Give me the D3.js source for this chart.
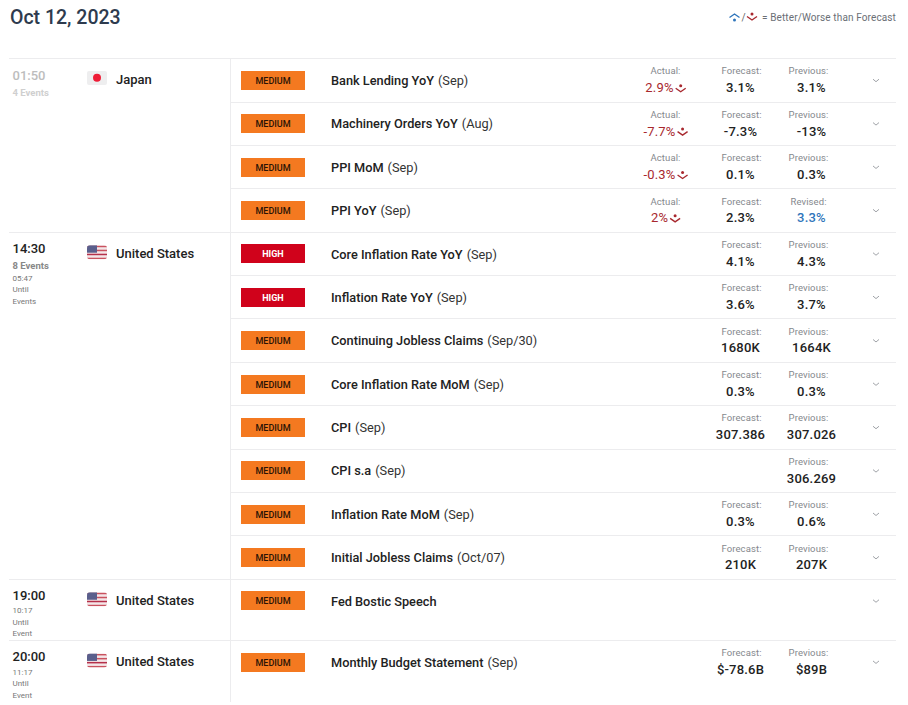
<!DOCTYPE html>
<html><head><meta charset="utf-8">
<script src="https://cdn.jsdelivr.net/npm/d3@7"></script>
<style>html,body{margin:0;padding:0;background:#fff}svg{display:block}text{font-family:Roboto,sans-serif}</style>
</head><body><svg id="c" width="908" height="705"></svg>
<script>
const dateLabel = "Oct 12, 2023";
const legendLabel = "= Better/Worse than Forecast";
const importance = ["MEDIUM","MEDIUM","MEDIUM","MEDIUM","HIGH","HIGH","MEDIUM","MEDIUM","MEDIUM","MEDIUM","MEDIUM","MEDIUM","MEDIUM","MEDIUM"];
const eventNames = ["Bank Lending YoY","Machinery Orders YoY","PPI MoM","PPI YoY","Core Inflation Rate YoY","Inflation Rate YoY","Continuing Jobless Claims","Core Inflation Rate MoM","CPI","CPI s.a","Inflation Rate MoM","Initial Jobless Claims","Fed Bostic Speech","Monthly Budget Statement"];
const periods = ["(Sep)","(Aug)","(Sep)","(Sep)","(Sep)","(Sep)","(Sep/30)","(Sep)","(Sep)","(Sep)","(Sep)","(Oct/07)","","(Sep)"];
const actuals = ["2.9%","-7.7%","-0.3%","2%","","","","","","","","","",""];
const forecasts = ["3.1%","-7.3%","0.1%","2.3%","4.1%","3.6%","1680K","0.3%","307.386","","0.3%","210K","","$-78.6B"];
const previous = ["3.1%","-13%","0.3%","3.3%","4.3%","3.7%","1664K","0.3%","307.026","306.269","0.6%","207K","","$89B"];
const revisedRows = [3];
const rowUnits = [1,1,1,1,1,1,1,1,1,1,1,1,1.41,1.43];
const groupTimes = ["01:50","14:30","19:00","20:00"];
const groupCountries = ["Japan","United States","United States","United States"];
const groupFirstRow = [0,4,12,13];
const groupEvents = ["4 Events","8 Events","",""];
const groupCountdown = ["","05:47","10:17","11:17"];
const groupUntil = ["","Events","Event","Event"];

const svg = d3.select("#c");
const cum = [0]; rowUnits.forEach(u => cum.push(cum[cum.length-1]+u));
const totalUnits = cum[cum.length-1];
const yScale = d3.scaleLinear().domain([0, totalUnits]).range([58.2, 58.2+43.38*totalUnits]);
const rowTop = i => yScale(cum[i]);
const lineC = "#ececee";
const PAD = {l:9, r:896, div:230.5};

function worse(g, x, yy, c){
  g.append("circle").attr("cx",x).attr("cy",yy-3).attr("r",1.5).attr("fill",c);
  g.append("path").attr("d",`M${x-5},${yy-0.5} L${x},${yy+3} L${x+5},${yy-0.5}`).attr("fill","none").attr("stroke",c).attr("stroke-width",1.4);
}
function better(g, x, yy, c){
  g.append("circle").attr("cx",x).attr("cy",yy+3).attr("r",1.5).attr("fill",c);
  g.append("path").attr("d",`M${x-5},${yy+0.5} L${x},${yy-3} L${x+5},${yy+0.5}`).attr("fill","none").attr("stroke",c).attr("stroke-width",1.4);
}
function flagUS(g, x, yy){
  const w=20,h=14, sh=h/7;
  const id="cl"+Math.round(yy);
  g.append("clipPath").attr("id",id).append("rect").attr("x",x).attr("y",yy).attr("width",w).attr("height",h).attr("rx",3);
  const f=g.append("g").attr("clip-path",`url(#${id})`);
  f.append("rect").attr("x",x).attr("y",yy).attr("width",w).attr("height",h).attr("fill","#f4e6e8");
  d3.range(7).forEach(i=>{ if(i%2==0) f.append("rect").attr("x",x).attr("y",yy+i*sh+0.5).attr("width",w).attr("height",sh*0.75).attr("fill",i==4?"#b5304a":"#c9525f"); });
  f.append("rect").attr("x",x).attr("y",yy).attr("width",10).attr("height",7.5).attr("fill","#5a5f8c");
}
function flagJP(g, x, yy){
  g.append("rect").attr("x",x).attr("y",yy).attr("width",20).attr("height",14).attr("rx",2).attr("fill","#eeeeef");
  g.append("circle").attr("cx",x+10).attr("cy",yy+6.8).attr("r",4).attr("fill","#ee1c36");
}

// header
svg.append("text").attr("x",10).attr("y",24).attr("font-size",19.5).attr("font-weight",500).attr("fill","#2e3b4e").text(dateLabel);
better(svg,734.5,17,"#2f75bb");
svg.append("text").attr("x",741.5).attr("y",21).attr("font-size",10).attr("fill","#666").text("/");
worse(svg,752,17,"#a8282e");
svg.append("text").attr("x",896).attr("y",21).attr("text-anchor","end").attr("font-size",10).attr("letter-spacing",0.12).attr("fill","#6b6f76").text(legendLabel);

// rules
groupFirstRow.forEach(r=>{
  svg.append("line").attr("x1",PAD.l).attr("x2",PAD.r).attr("y1",Math.round(rowTop(r))+.5).attr("y2",Math.round(rowTop(r))+.5).attr("stroke",lineC);
});
eventNames.forEach((_,i)=>{
  svg.append("line").attr("x1",PAD.div).attr("x2",PAD.r).attr("y1",Math.round(rowTop(i))+.5).attr("y2",Math.round(rowTop(i))+.5).attr("stroke",lineC);
});
svg.append("line").attr("x1",PAD.div).attr("x2",PAD.div).attr("y1",58).attr("y2",702).attr("stroke",lineC);

// groups
groupTimes.forEach((t,i)=>{
  const t0=rowTop(groupFirstRow[i]);
  const past=i==0;
  const g=svg.append("g");
  g.append("text").attr("x",12.5).attr("y",t0+21.3).attr("font-size",13).attr("font-weight",500).attr("fill",past?"#bdbdbd":"#222").text(t);
  if(groupEvents[i]) g.append("text").attr("x",12.5).attr("y",t0+37.3).attr("font-size",9.5).attr("font-weight",700).attr("fill",past?"#cfcfcf":"#888").text(groupEvents[i]);
  if(groupCountdown[i]){
    const off=groupEvents[i]?49:34.7;
    [groupCountdown[i],"Until",groupUntil[i]].forEach((s,k)=>{
      g.append("text").attr("x",12.5).attr("y",t0+off+k*11.5).attr("font-size",8).attr("fill","#777").text(s);
    });
  }
  const fy=t0+(past?12.8:13.5);
  (past?flagJP:flagUS)(g,87,fy);
  g.append("text").attr("x",116).attr("y",t0+(past?25.5:26)).attr("font-size",13).attr("font-weight",500).attr("fill","#222").text(groupCountries[i]);
});

// rows
const rows = svg.selectAll("g.row").data(eventNames).join("g").attr("class","row");
rows.each(function(name,i){
  const g=d3.select(this), t0=rowTop(i);
  const cy=t0+22;
  const high=importance[i]=="HIGH";
  const by=Math.round(cy-9.3);
  g.append("rect").attr("x",241).attr("y",by).attr("width",64).attr("height",19).attr("fill",high?"#d0021b":"#f47920");
  g.append("text").attr("x",273).attr("y",by+12.7).attr("text-anchor","middle").attr("font-size",9).attr("font-weight",high?700:500).attr("fill",high?"#fff":"#2a1406").text(importance[i]);
  const tx=g.append("text").attr("x",331).attr("y",cy+4.8).attr("font-size",12.75).attr("fill","#222");
  tx.append("tspan").attr("font-weight",500).text(name);
  if(periods[i]) tx.append("tspan").attr("dx",4).attr("font-weight",400).attr("fill","#333").text(periods[i]);
  g.append("path").attr("d",`M${873},${cy-1} L${876},${cy+1.5} L${879},${cy-1}`).attr("fill","none").attr("stroke","#a0a3a8").attr("stroke-width",1);

  const label=(x,s)=>g.append("text").attr("x",x).attr("y",t0+16.2).attr("text-anchor","middle").attr("font-size",9.5).attr("letter-spacing",0.1).attr("fill","#85888d").text(s);
  const val=(x,s,c)=>g.append("text").attr("x",x).attr("y",t0+34).attr("text-anchor","middle").attr("font-size",13).attr("font-weight",500).attr("letter-spacing",0.2).attr("fill",c||"#222").text(s);
  if(actuals[i]){
    label(665.5,"Actual:");
    const a=g.append("text").attr("x",0).attr("y",t0+34).attr("font-size",13).attr("letter-spacing",0.2).attr("fill","#a8282e").text(actuals[i]);
    const w=a.node().getComputedTextLength();
    const x0=665.5-(w+12)/2;
    a.attr("x",x0);
    worse(g,x0+w+7,t0+30.5,"#a8282e");
  }
  if(forecasts[i]){ label(741.5,"Forecast:"); val(740.5,forecasts[i]); }
  if(previous[i]){
    const rev=revisedRows.includes(i);
    label(808.5,rev?"Revised:":"Previous:");
    val(811.5,previous[i],rev?"#2f75bb":null);
  }
});
</script></body></html>
